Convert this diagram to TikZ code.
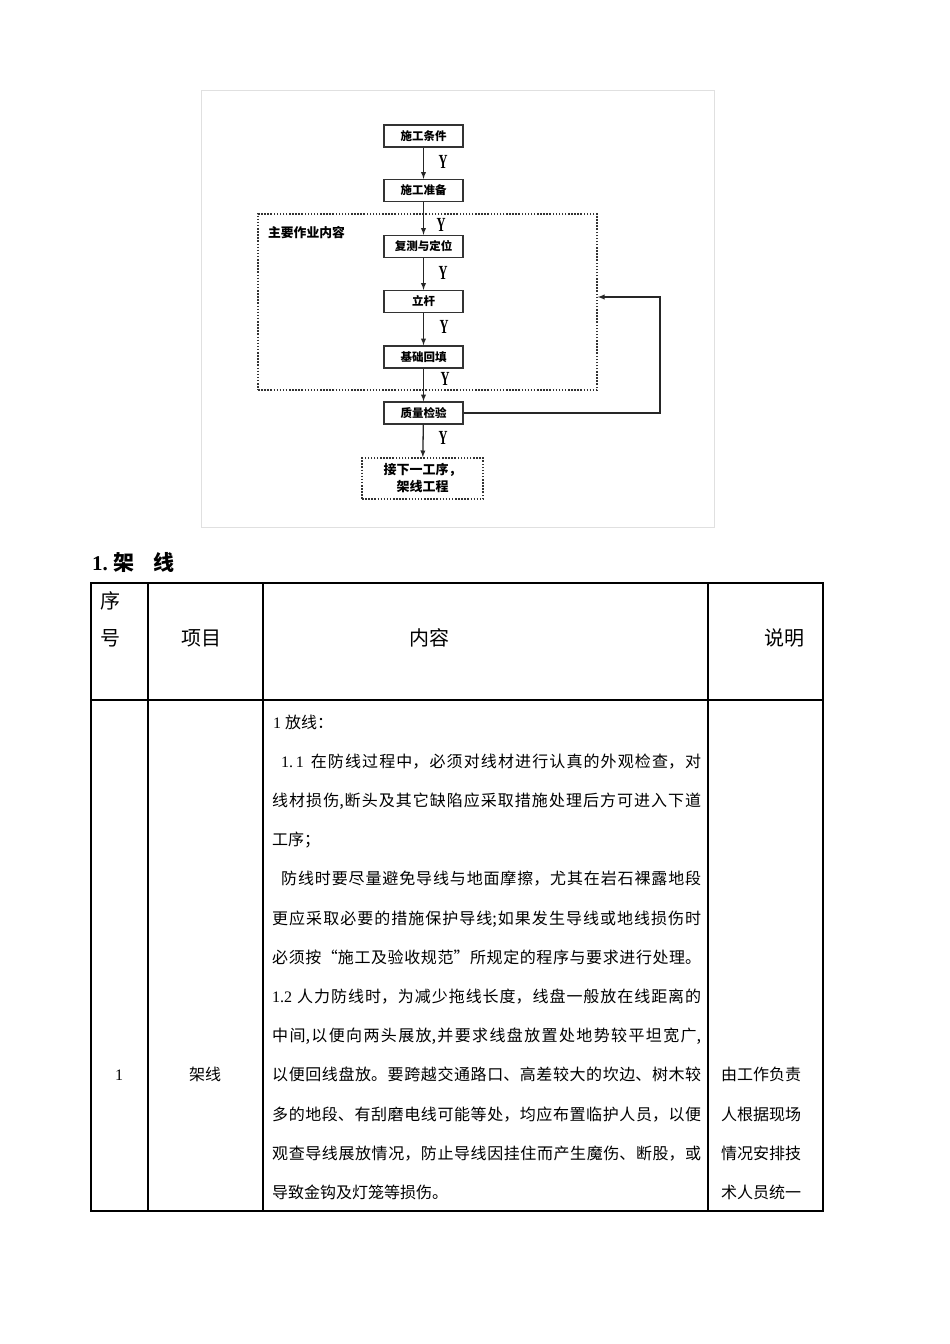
\documentclass[tikz,border=0pt]{standalone}
\usepackage{fontspec}
\setmainfont{Liberation Serif}
\newfontfamily\cjk{Noto Sans CJK SC}
\usetikzlibrary{positioning}
\XeTeXlinebreaklocale "zh"
\XeTeXlinebreakskip=0pt plus 2pt
\newcommand{\fillline}[2]{\parbox[b]{#1}{\parfillskip=0pt\relax #2}}
\newcommand{\yes}{\scalebox{0.62}[1]{Y}}

\begin{document}
\begin{tikzpicture}[x=1pt, y=-1pt,
  box/.style={draw=black!80, line width=1.3pt, minimum width=79pt, minimum height=22pt, inner sep=0pt, font=\cjk\bfseries\fontsize{11.5}{12}\selectfont},
  ylab/.style={inner sep=0pt, font=\bfseries\fontsize{20}{20}\selectfont},
  flow/.style={-latex, line width=1.3pt, black!85},
  dots/.style={draw=black!80, line width=1.6pt, dash pattern=on 1.5pt off 1.6pt},
  cell/.style={inner sep=0pt, font=\cjk\fontsize{20}{20}\selectfont},
  body/.style={anchor=base west, inner sep=0pt, font=\cjk\fontsize{16}{16}\selectfont}]
\fill[white] (0,0) rectangle (950,1344);
\useasboundingbox (0,0) rectangle (950,1344);

% Flow chart
\draw[black!12] (201,90) rectangle (714,527);
\node[dots, minimum width=339pt, minimum height=176pt] (main) at (427.5,302) {};
\node[inner sep=0pt, font=\cjk\bfseries\fontsize{12.8}{13}\selectfont] (title) at (306.5,233) {主要作业内容};

\node[box] (cond) at (423.5,136) {施工条件};
\node[box] (prep) at (423.5,190.5) {施工准备};
\node[box] (survey) at (423.5,246.5) {复测与定位};
\node[box] (pole) at (423.5,301.5) {立杆};
\node[box] (fill) at (423.5,357) {基础回填};
\node[box] (check) at (423.5,413) {质量检验};
\node[dots, minimum width=121pt, minimum height=41pt, align=center, font=\cjk\bfseries\fontsize{13}{17}\selectfont] (next) at (422.5,478.5) {接下一工序，\\架线工程};

\draw[flow] (cond) -- (prep);
\draw[flow] (prep) -- (survey);
\draw[flow] (survey) -- (pole);
\draw[flow] (pole) -- (fill);
\draw[flow] (fill) -- (check);
\draw[flow] (check) -- (next);

\node[ylab] (y1) at (443,162) {\yes};
\node[ylab] (y2) at (441,225) {\yes};
\node[ylab] (y3) at (443,273) {\yes};
\node[ylab] (y4) at (444,327) {\yes};
\node[ylab] (y5) at (445,379) {\yes};
\node[ylab] (y6) at (443,438) {\yes};

% Return arrow
\coordinate (turn) at (660,297);
\draw[flow] (check.east) -| (turn) -- (main.east |- turn);

% Heading
\node[anchor=west, inner sep=0pt, font=\bfseries\fontsize{21}{21}\selectfont] (head) at (92,562) {1.\hspace{6pt}{\cjk 架\hspace{19pt}线}};

% Table
\draw[line width=1.1pt] (91,583) rectangle (823,1211);
\draw[line width=1.1pt] (91,700) -- (823,700);
\foreach \x in {148,263,708}
  \draw[line width=1.1pt] (\x,583) -- (\x,1211);

\node[cell] (hno1) at (110,601) {序};
\node[cell] (hno2) at (110,638) {号};
\node[cell] (hitem) at (201,638) {项目};
\node[cell] (hbody) at (429,638) {内容};
\node[cell] (hnote) at (784,638) {说明};

\node[body, anchor=base] (no) at (119,1080.8) {\rmfamily 1};
\node[body, anchor=base] (item) at (205,1080.8) {架线};

% Content column
\node[body] (l1) at (273,728) {{\rmfamily 1}\hspace{4pt}放线：};
\node[body] (l2) at (281,767.2) {\fillline{420pt}{{\rmfamily 1.\,1}\hspace{7pt}在防线过程中，必须对线材进行认真的外观检查，对}};
\node[body] (l3) at (272,806.4) {\fillline{429pt}{线材损伤,断头及其它缺陷应采取措施处理后方可进入下道}};
\node[body] (l4) at (272,845.6) {工序；};
\node[body] (l5) at (281,884.8) {\fillline{420pt}{防线时要尽量避免导线与地面摩擦，尤其在岩石裸露地段}};
\node[body] (l6) at (272,924) {\fillline{429pt}{更应采取必要的措施保护导线;如果发生导线或地线损伤时}};
\node[body] (l7) at (272,963.2) {\fillline{429pt}{必须按“施工及验收规范”所规定的程序与要求进行处理。}};
\node[body] (l8) at (272,1002.4) {\fillline{429pt}{{\rmfamily 1.2}\hspace{5pt}人力防线时，为减少拖线长度，线盘一般放在线距离的}};
\node[body] (l9) at (272,1041.6) {\fillline{429pt}{中间,以便向两头展放,并要求线盘放置处地势较平坦宽广,}};
\node[body] (l10) at (272,1080.8) {\fillline{429pt}{以便回线盘放。要跨越交通路口、高差较大的坎边、树木较}};
\node[body] (l11) at (272,1120) {\fillline{429pt}{多的地段、有刮磨电线可能等处，均应布置临护人员，以便}};
\node[body] (l12) at (272,1159.2) {\fillline{429pt}{观查导线展放情况，防止导线因挂住而产生魔伤、断股，或}};
\node[body] (l13) at (272,1198.4) {导致金钩及灯笼等损伤。};

% Note column
\node[body] (n1) at (721,1080.8) {由工作负责};
\node[body] (n2) at (721,1120) {人根据现场};
\node[body] (n3) at (721,1159.2) {情况安排技};
\node[body] (n4) at (721,1198.4) {术人员统一};
\end{tikzpicture}
\end{document}
